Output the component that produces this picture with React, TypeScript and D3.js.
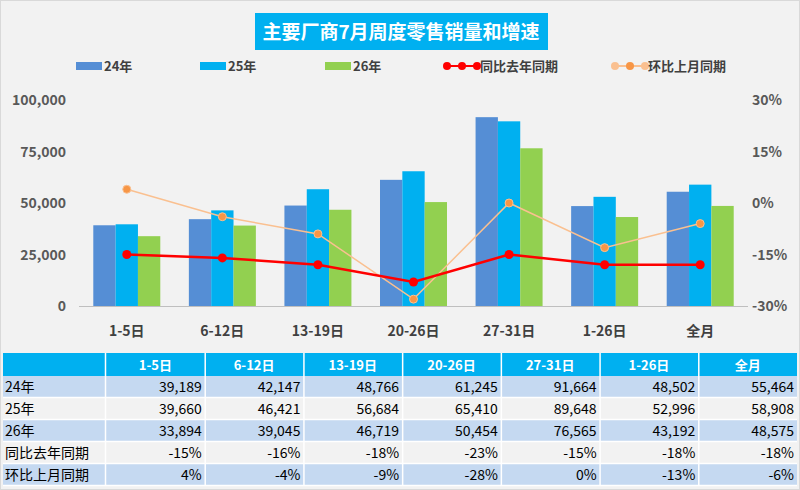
import * as d3 from 'd3';

const categories = ['1-5日', '6-12日', '13-19日', '20-26日', '27-31日', '1-26日', '全月'];
const series = ['24年', '25年', '26年'];
const sales24 = [39189, 42147, 48766, 61245, 91664, 48502, 55464];
const sales25 = [39660, 46421, 56684, 65410, 89648, 52996, 58908];
const sales26 = [33894, 39045, 46719, 50454, 76565, 43192, 48575];
const yoy = [-15, -16, -18, -23, -15, -18, -18];
const mom = [4, -4, -9, -28, 0, -13, -6];
const leftTicks = [0, 25000, 50000, 75000, 100000];
const rightTicks = [-30, -15, 0, 15, 30];

const colors = ['#558ed5', '#00b0f0', '#92d050'];
const font = '"Noto Sans CJK SC", "Liberation Sans", sans-serif';

export default function App() {
  const W = 800, H = 490;
  const x = d3.scaleBand().domain(categories).range([79, 748]);
  const xs = d3.scaleBand().domain(series).range([0, 67]);
  const yL = d3.scaleLinear().domain([0, 100000]).range([306, 100]);
  const yR = d3.scaleLinear().domain([-30, 30]).range([306, 100]);
  const bars = [sales24, sales25, sales26];
  const cx = (c: string) => (x(c) as number) + x.bandwidth() / 2;
  const line = d3.line<number>().x((_, i) => cx(categories[i])).y(d => yR(d));
  const fmt = d3.format(',');

  const colX = d3.scaleBand().domain(categories).range([106, 797]);
  const rowTop = 353, headH = 23, rowH = 22;
  const rows: [string, string[]][] = [
    ['24年', sales24.map(fmt)],
    ['25年', sales25.map(fmt)],
    ['26年', sales26.map(fmt)],
    ['同比去年同期', yoy.map(v => v + '%')],
    ['环比上月同期', mom.map(v => v + '%')],
  ];

  const legend = [
    { x: 76, label: '24年', type: 'bar', c: colors[0] },
    { x: 200, label: '25年', type: 'bar', c: colors[1] },
    { x: 325, label: '26年', type: 'bar', c: colors[2] },
    { x: 447, label: '同比去年同期', type: 'line', c: '#ff0000', d: '#ff0000' },
    { x: 615, label: '环比上月同期', type: 'line', c: '#fac090', d: '#f79646' },
  ];

  return (
    <svg width={W} height={H} style={{ position: 'absolute', left: 0, top: 0, fontFamily: font }}>
      <rect x={0.5} y={0.5} width={W - 1} height={H - 1} fill="#f2f2f2" stroke="#d9d9d9" />
      <rect x={255} y={13} width={293} height={37} fill="#00b0f0" />
      <text x={401} y={39} textAnchor="middle" fill="#fff" fontSize={19} fontWeight="bold">主要厂商7月周度零售销量和增速</text>

      {legend.map(l => (
        <g key={l.label} fontSize={13} fontWeight="bold" fill="#404040">
          {l.type === 'bar' ? (
            <rect x={l.x} y={62} width={26} height={8} fill={l.c} />
          ) : (
            <g>
              <line x1={l.x} x2={l.x + 30} y1={66} y2={66} stroke={l.c} strokeWidth={2} />
              {[0, 15, 30].map(o => <circle key={o} cx={l.x + o} cy={66} r={4} fill={o === 15 ? l.d : l.c} />)}
            </g>
          )}
          <text x={l.x + (l.type === 'bar' ? 28 : 33)} y={71}>{l.label}</text>
        </g>
      ))}

      {leftTicks.map(t => (
        <text key={t} x={66} y={yL(t) + 5} textAnchor="end" fontSize={14} fontWeight="bold" fill="#595959">{fmt(t)}</text>
      ))}
      {rightTicks.map(t => (
        <text key={t} x={752} y={yR(t) + 5} fontSize={14} fontWeight="bold" fill="#595959">{t + '%'}</text>
      ))}
      <line x1={79} x2={748} y1={306.5} y2={306.5} stroke="#bfbfbf" />

      {categories.map((c, i) => (
        <g key={c}>
          {bars.map((b, j) => (
            <rect key={j} x={cx(c) - 33.5 + (xs(series[j]) as number)} y={yL(b[i])} width={xs.bandwidth()} height={306 - yL(b[i])} fill={colors[j]} />
          ))}
          <text x={cx(c)} y={336} textAnchor="middle" fontSize={14} fontWeight="bold" fill="#404040">{c}</text>
        </g>
      ))}

      <path d={line(mom) as string} fill="none" stroke="#fac090" strokeWidth={1.5} />
      {mom.map((v, i) => <circle key={i} cx={cx(categories[i])} cy={yR(v)} r={4} fill="#f79646" stroke="#fac090" />)}
      <path d={line(yoy) as string} fill="none" stroke="#ff0000" strokeWidth={2.5} />
      {yoy.map((v, i) => <circle key={i} cx={cx(categories[i])} cy={yR(v)} r={4.5} fill="#ff0000" />)}

      <rect x={3} y={rowTop} width={794} height={headH} fill="#00b0f0" />
      {categories.map(c => (
        <text key={c} x={(colX(c) as number) + colX.bandwidth() / 2} y={rowTop + 17} textAnchor="middle" fill="#fff" fontSize={13} fontWeight="bold">{c}</text>
      ))}
      {rows.map(([label, vals], r) => {
        const y0 = rowTop + headH + r * rowH;
        return (
          <g key={label}>
            <rect x={3} y={y0} width={794} height={rowH} fill={r % 2 === 0 ? '#c5d9f1' : '#f2f2f2'} />
            <text x={5} y={y0 + 16} fontSize={14} fill="#000">{label}</text>
            {vals.map((v, k) => (
              <text key={k} x={(colX(categories[k]) as number) + colX.bandwidth() - 3} y={y0 + 16} textAnchor="end" fontSize={14} fill="#000">{v}</text>
            ))}
          </g>
        );
      })}
      {[105, ...categories.map(c => (colX(c) as number) + colX.bandwidth())].slice(0, 7).map(v => (
        <line key={v} x1={v + 0.5} x2={v + 0.5} y1={rowTop} y2={rowTop + headH + 5 * rowH} stroke="#fff" strokeWidth={1.5} />
      ))}
      {d3.range(1, 6).map(r => (
        <line key={r} x1={3} x2={797} y1={rowTop + headH + r * rowH - 0.5} y2={rowTop + headH + r * rowH - 0.5} stroke="#fff" strokeWidth={1.5} />
      ))}
    </svg>
  );
}
